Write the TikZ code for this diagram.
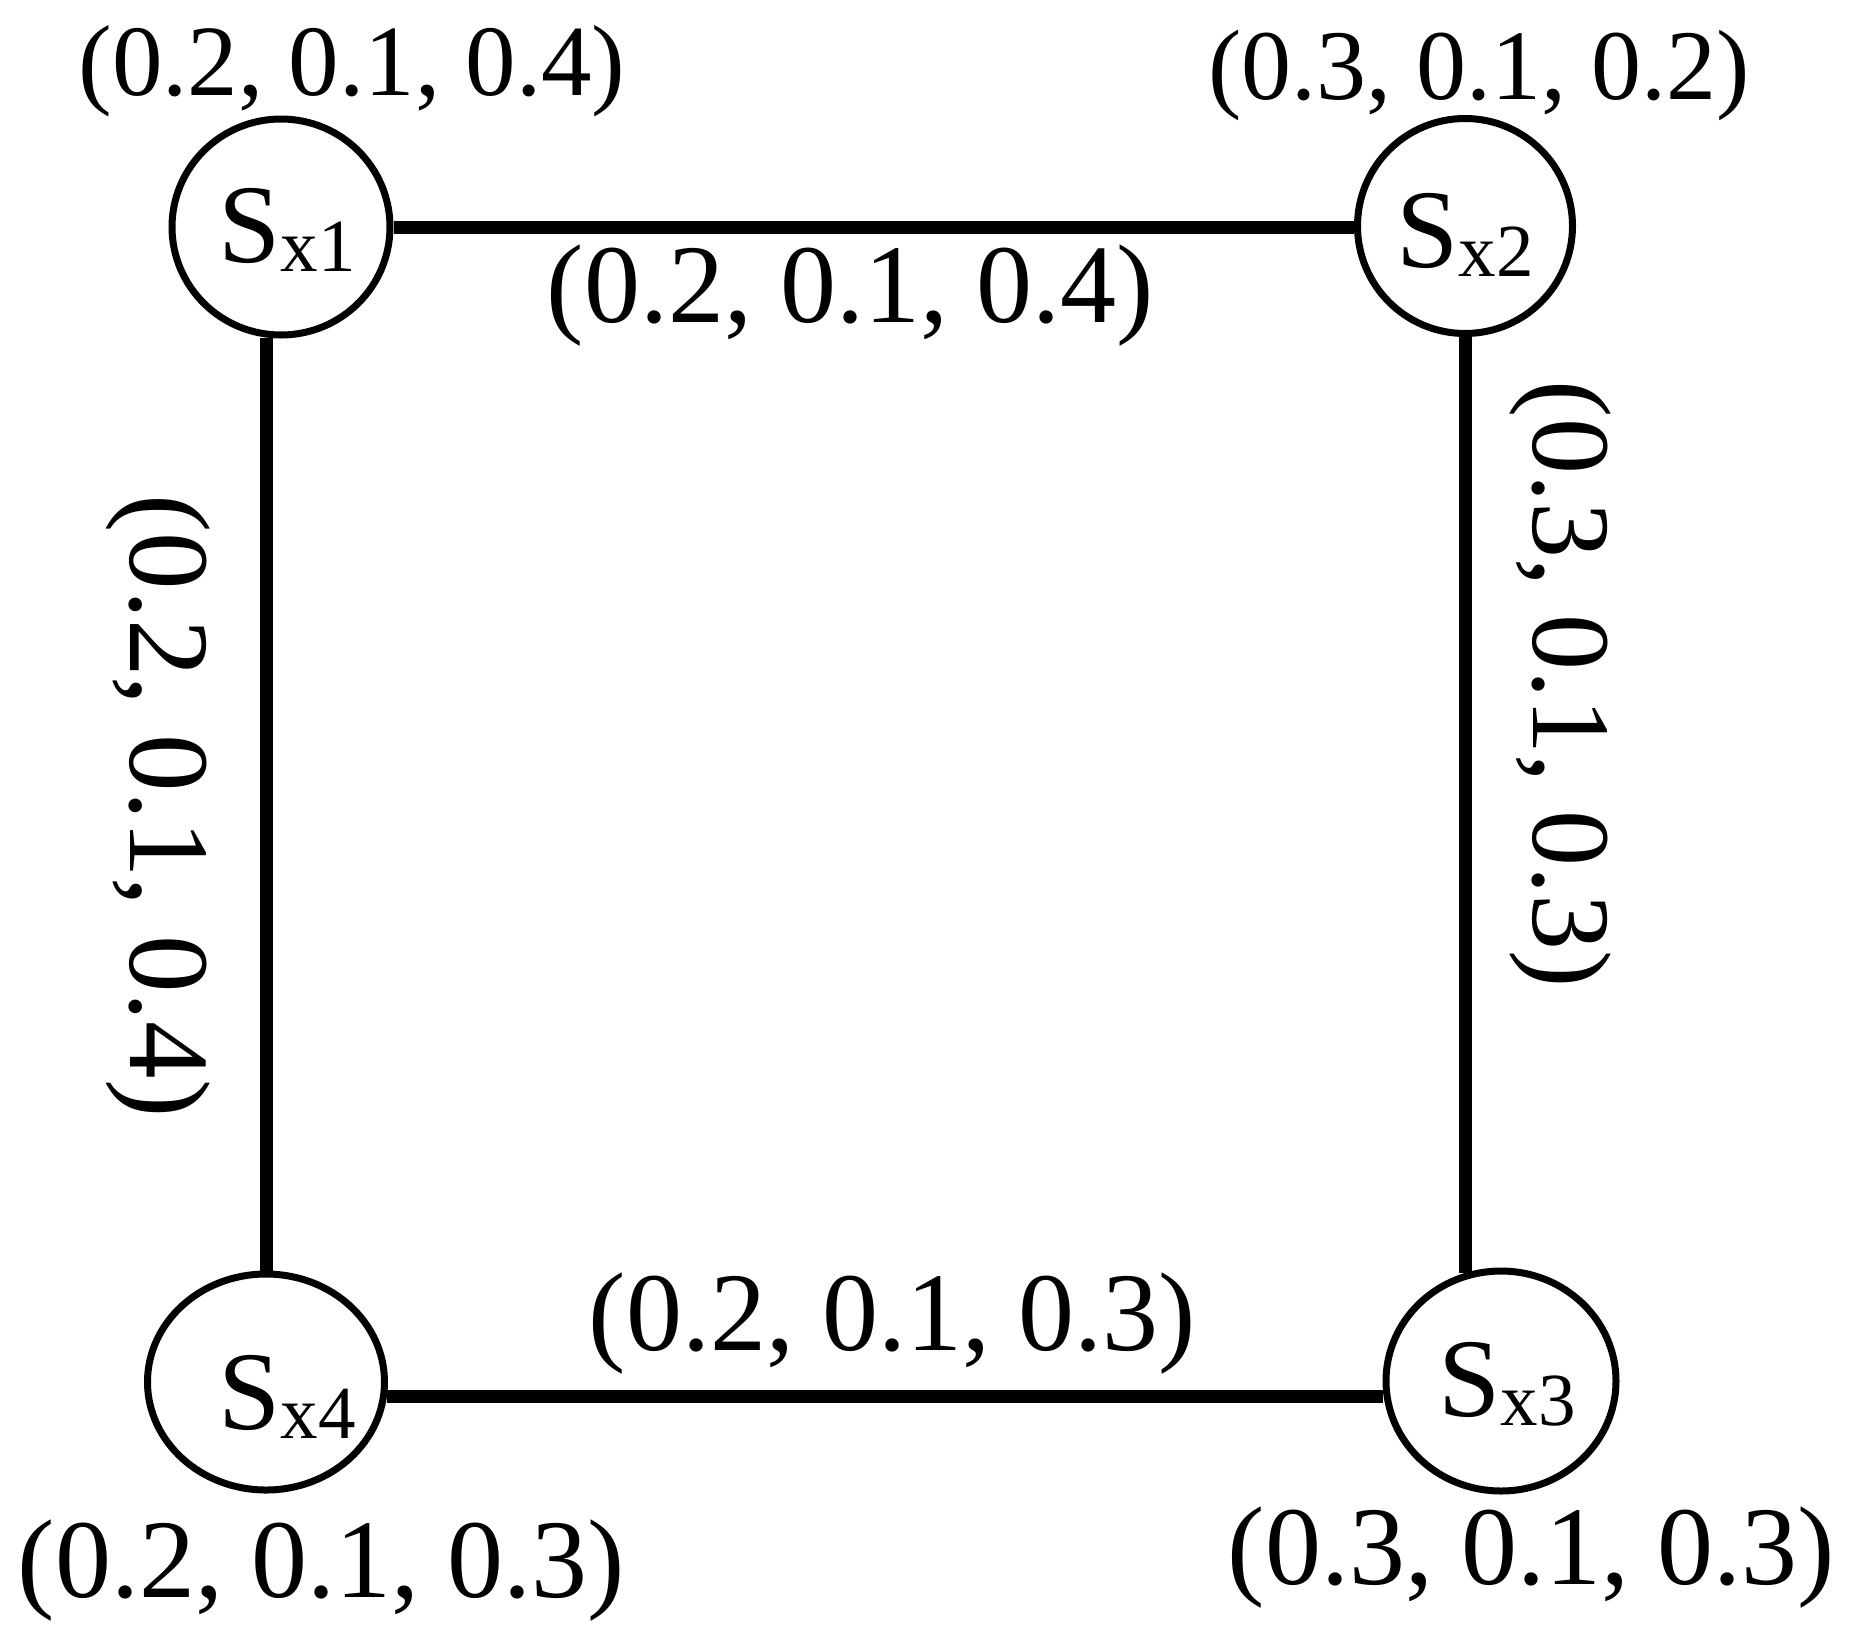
\documentclass[tikz,border=0pt]{standalone}
\usepackage{fontspec}
\setmainfont{Liberation Serif}
\usetikzlibrary{shapes.geometric}
\newcommand\statelabel[1]{{\fontsize{56}{60}\selectfont S}\raisebox{-4.5pt}{\fontsize{37.5}{40}\selectfont x#1}}
\begin{document}
\begin{tikzpicture}[x=0.5pt,y=-0.5pt,
  state/.style={draw, ellipse, line width=3.5pt, inner sep=0pt},
  link/.style={line width=6.5pt},
  stxt/.style={anchor=base west, inner sep=0pt},
  lbl/.style={anchor=base, inner sep=0pt},
]
\useasboundingbox (0,0) rectangle (1873,1644);
% states
\node[state, minimum width=109pt, minimum height=108pt] (s1) at (281,227) {};
\node[state, minimum width=107.5pt, minimum height=107.5pt] (s2) at (1465,226) {};
\node[state, minimum width=115pt, minimum height=110pt] (s3) at (1501,1381) {};
\node[state, minimum width=118.5pt, minimum height=108pt] (s4) at (266,1382) {};
% state texts
\node[stxt] (t1) at (218,262) {\statelabel{1}};
\node[stxt] (t2) at (1396,267) {\statelabel{2}};
\node[stxt] (t3) at (1438,1416) {\statelabel{3}};
\node[stxt] (t4) at (218,1429) {\statelabel{4}};
% connectors
\draw[link] (s1.east) -- (s1.east -| s2.west);
\draw[link] (s4.north) -- (s4.north |- s1.263);
\draw[link] (s2.south) -- (s2.south |- s3.108);
\draw[link] (s4.-7) -- (s4.-7 -| s3.187);
% state value labels
\node[lbl, font=\fontsize{50.5}{54}\selectfont] (l1) at (352,95) {(0.2, 0.1, 0.4)};
\node[lbl, font=\fontsize{50}{54}\selectfont] (l2) at (1479,99) {(0.3, 0.1, 0.2)};
\node[lbl, font=\fontsize{56}{60}\selectfont] (l3) at (1531,1584) {(0.3, 0.1, 0.3)};
\node[lbl, font=\fontsize{56}{60}\selectfont] (l4) at (321,1597) {(0.2, 0.1, 0.3)};
% edge labels
\node[lbl, font=\fontsize{56}{60}\selectfont] (e12) at (850,322) {(0.2, 0.1, 0.4)};
\node[lbl, font=\fontsize{56}{60}\selectfont] (e43) at (892,1350) {(0.2, 0.1, 0.3)};
\node[lbl, rotate=-90, font=\fontsize{57.5}{62}\selectfont] (e14) at (130,806) {(0.2, 0.1, 0.4)};
\node[lbl, rotate=-90, font=\fontsize{56}{60}\selectfont] (e23) at (1533,684) {(0.3, 0.1, 0.3)};
\end{tikzpicture}
\end{document}
